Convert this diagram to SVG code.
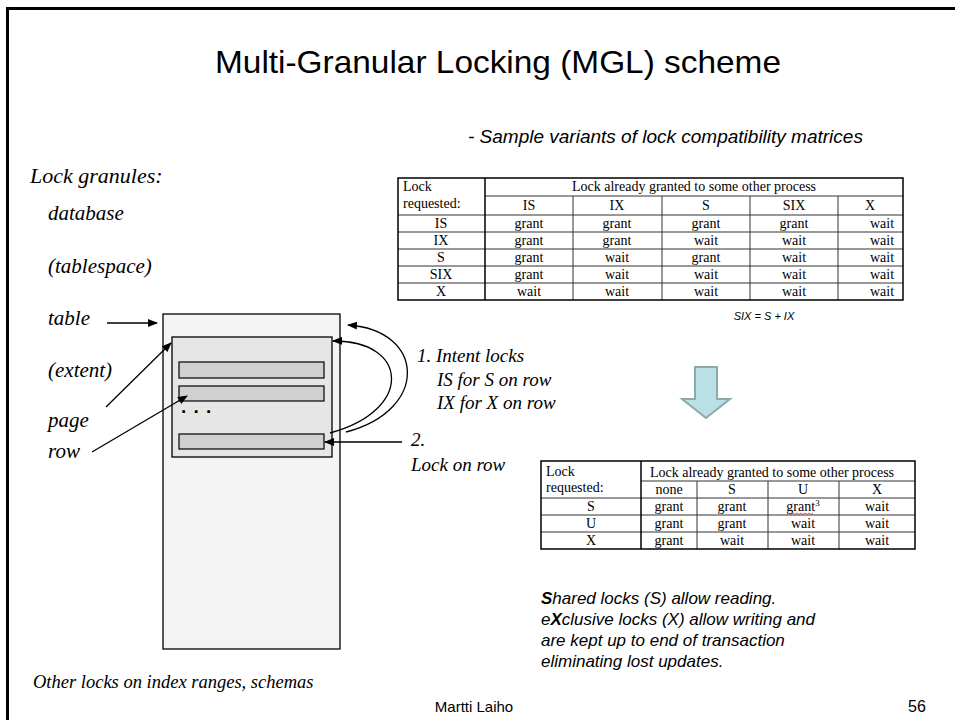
<svg xmlns="http://www.w3.org/2000/svg" width="955" height="720" viewBox="0 0 955 720">
<style>
.ar{font-family:"Liberation Sans",Arial,sans-serif;fill:#000}
.ti{font-family:"Liberation Serif","Times New Roman",serif;font-style:italic;fill:#000}
.tt{font-family:"Liberation Serif","Times New Roman",serif;font-size:14px;fill:#000}
.c{text-anchor:middle}
.ob{fill:none;stroke:#000;stroke-width:1.5}
.ib{stroke:#333;stroke-width:1;fill:none}
.con{fill:none;stroke:#000;stroke-width:1.3}
</style>
<defs>
<marker id="ah" markerWidth="10" markerHeight="8" refX="9" refY="4" orient="auto" markerUnits="userSpaceOnUse">
<path d="M0,0 L10,4 L0,8 z" fill="#000"/>
</marker>
</defs>
<rect width="955" height="720" fill="#fff"/>
<path d="M7.5,720 V8.5 H955" fill="none" stroke="#000" stroke-width="3"/>

<text class="ar c" x="498" y="73" font-size="32" textLength="566" lengthAdjust="spacingAndGlyphs">Multi-Granular Locking (MGL) scheme</text>
<text class="ar" x="468" y="143" font-size="19" font-style="italic">- Sample variants of lock compatibility matrices</text>

<g id="granules">
<text class="ti" x="30" y="183" font-size="22">Lock granules:</text>
<text class="ti" x="48" y="220" font-size="21">database</text>
<text class="ti" x="48" y="273" font-size="21">(tablespace)</text>
<text class="ti" x="48" y="325" font-size="21">table</text>
<text class="ti" x="48" y="377" font-size="21">(extent)</text>
<text class="ti" x="48" y="427" font-size="21">page</text>
<text class="ti" x="48" y="458" font-size="21">row</text>
</g>

<g id="table-node">
<rect x="163" y="314" width="177" height="335" fill="#f4f4f4" stroke="#000" stroke-width="1.3"/>
</g>
<g id="page-node">
<rect x="172" y="337" width="160" height="120" fill="#e6e6e6" stroke="#000" stroke-width="1.3"/>
</g>
<g id="row-nodes">
<rect x="179" y="362" width="145" height="16" fill="#d0d0d0" stroke="#000" stroke-width="1.2"/>
<rect x="179" y="386" width="145" height="15" fill="#d0d0d0" stroke="#000" stroke-width="1.2"/>
<text x="181" y="413" font-family="'Liberation Sans',Arial,sans-serif" font-size="19" font-weight="bold" letter-spacing="1">. . .</text>
<rect x="179" y="434" width="145" height="15" fill="#d0d0d0" stroke="#000" stroke-width="1.2"/>
</g>

<g id="connectors">
<line class="con" x1="107" y1="323" x2="157" y2="323" marker-end="url(#ah)"/>
<line class="con" x1="106" y1="407" x2="171" y2="343" marker-end="url(#ah)"/>
<line class="con" x1="92" y1="452" x2="187" y2="396" marker-end="url(#ah)"/>
<line class="con" x1="402" y1="442" x2="325" y2="442" marker-end="url(#ah)"/>
<path class="con" d="M330,433 C415,410 408,340 333,341" marker-end="url(#ah)"/>
<path class="con" d="M346,432 C430,410 425,330 348,325" marker-end="url(#ah)"/>
</g>

<g id="intent-label">
<text class="ti" x="417" y="362" font-size="19">1. Intent locks</text>
<text class="ti" x="437" y="386" font-size="19">IS for S on row</text>
<text class="ti" x="437" y="409" font-size="19">IX for X on row</text>
</g>
<g id="lockrow-label">
<text class="ti" x="411" y="446" font-size="19">2.</text>
<text class="ti" x="411" y="471" font-size="19">Lock on row</text>
</g>

<g id="matrix1">
<rect x="398" y="178" width="505" height="122" fill="#fff"/>
<line class="ib" x1="485" y1="196" x2="903" y2="196"/>
<line class="ib" x1="398" y1="215" x2="903" y2="215"/>
<line class="ib" x1="398" y1="232" x2="903" y2="232"/>
<line class="ib" x1="398" y1="249" x2="903" y2="249"/>
<line class="ib" x1="398" y1="266" x2="903" y2="266"/>
<line class="ib" x1="398" y1="283" x2="903" y2="283"/>
<line class="ib" x1="573" y1="196" x2="573" y2="300"/>
<line class="ib" x1="662" y1="196" x2="662" y2="300"/>
<line class="ib" x1="750" y1="196" x2="750" y2="300"/>
<line class="ib" x1="838" y1="196" x2="838" y2="300"/>
<line x1="485" y1="178" x2="485" y2="300" stroke="#000" stroke-width="1.5"/>
<rect class="ob" x="398" y="178" width="505" height="122"/>
<text class="tt" x="403" y="191">Lock</text>
<text class="tt" x="403" y="208">requested:</text>
<text class="tt c" x="694" y="191">Lock already granted to some other process</text>
<text class="tt c" x="529" y="210">IS</text><text class="tt c" x="617" y="210">IX</text><text class="tt c" x="706" y="210">S</text><text class="tt c" x="794" y="210">SIX</text><text class="tt c" x="870" y="210">X</text>
<text class="tt c" x="441" y="228">IS</text><text class="tt c" x="529" y="228">grant</text><text class="tt c" x="617" y="228">grant</text><text class="tt c" x="706" y="228">grant</text><text class="tt c" x="794" y="228">grant</text><text class="tt c" x="882" y="228">wait</text>
<text class="tt c" x="441" y="245">IX</text><text class="tt c" x="529" y="245">grant</text><text class="tt c" x="617" y="245">grant</text><text class="tt c" x="706" y="245">wait</text><text class="tt c" x="794" y="245">wait</text><text class="tt c" x="882" y="245">wait</text>
<text class="tt c" x="441" y="262">S</text><text class="tt c" x="529" y="262">grant</text><text class="tt c" x="617" y="262">wait</text><text class="tt c" x="706" y="262">grant</text><text class="tt c" x="794" y="262">wait</text><text class="tt c" x="882" y="262">wait</text>
<text class="tt c" x="441" y="279">SIX</text><text class="tt c" x="529" y="279">grant</text><text class="tt c" x="617" y="279">wait</text><text class="tt c" x="706" y="279">wait</text><text class="tt c" x="794" y="279">wait</text><text class="tt c" x="882" y="279">wait</text>
<text class="tt c" x="441" y="296">X</text><text class="tt c" x="529" y="296">wait</text><text class="tt c" x="617" y="296">wait</text><text class="tt c" x="706" y="296">wait</text><text class="tt c" x="794" y="296">wait</text><text class="tt c" x="882" y="296">wait</text>
</g>

<text class="ar c" x="764" y="320" font-size="11" font-style="italic">SIX = S + IX</text>

<g id="down-arrow">
<polygon points="695,367 717,367 717,399 730,399 706,418 682,399 695,399" fill="#b9e0e5" stroke="#8fa9ab" stroke-width="2" stroke-linejoin="miter"/>
</g>

<g id="matrix2">
<rect x="541" y="461" width="374" height="88" fill="#fff"/>
<line class="ib" x1="641" y1="481" x2="915" y2="481"/>
<line class="ib" x1="541" y1="498" x2="915" y2="498"/>
<line class="ib" x1="541" y1="515" x2="915" y2="515"/>
<line class="ib" x1="541" y1="532" x2="915" y2="532"/>
<line class="ib" x1="697" y1="481" x2="697" y2="549"/>
<line class="ib" x1="768" y1="481" x2="768" y2="549"/>
<line class="ib" x1="839" y1="481" x2="839" y2="549"/>
<line x1="641" y1="461" x2="641" y2="549" stroke="#000" stroke-width="1.5"/>
<rect class="ob" x="541" y="461" width="374" height="88"/>
<text class="tt" x="546" y="476">Lock</text>
<text class="tt" x="546" y="492">requested:</text>
<text class="tt c" x="772" y="477">Lock already granted to some other process</text>
<text class="tt c" x="669" y="494">none</text><text class="tt c" x="732" y="494">S</text><text class="tt c" x="803" y="494">U</text><text class="tt c" x="877" y="494">X</text>
<text class="tt c" x="591" y="511">S</text><text class="tt c" x="669" y="511">grant</text><text class="tt c" x="732" y="511">grant</text><text class="tt c" x="803" y="511">grant<tspan font-size="9" dy="-5">3</tspan></text><text class="tt c" x="877" y="511">wait</text>
<text class="tt c" x="591" y="528">U</text><text class="tt c" x="669" y="528">grant</text><text class="tt c" x="732" y="528">grant</text><text class="tt c" x="803" y="528">wait</text><text class="tt c" x="877" y="528">wait</text>
<text class="tt c" x="591" y="545">X</text><text class="tt c" x="669" y="545">grant</text><text class="tt c" x="732" y="545">wait</text><text class="tt c" x="803" y="545">wait</text><text class="tt c" x="877" y="545">wait</text>
<path d="M787,514.5 l2,-1.5 l2,1.5 l2,-1.5 l2,1.5 l2,-1.5 l2,1.5 l2,-1.5 l2,1.5 l2,-1.5 l2,1.5 l2,-1.5 l2,1.5 l2,-1.5" fill="none" stroke="#e03030" stroke-width="0.8"/>
</g>

<g id="note" class="ar" font-size="17" font-style="italic">
<text x="541" y="604"><tspan font-weight="bold">S</tspan>hared locks (S) allow reading.</text>
<text x="541" y="625">e<tspan font-weight="bold">X</tspan>clusive locks (X) allow writing and</text>
<text x="541" y="646">are kept up to end of transaction</text>
<text x="541" y="667">eliminating lost updates.</text>
</g>

<text class="ti" x="33" y="688" font-size="18.5">Other locks on index ranges, schemas</text>
<text class="ar c" x="474" y="712" font-size="15">Martti Laiho</text>
<text class="ar" x="908" y="712" font-size="16">56</text>
</svg>
